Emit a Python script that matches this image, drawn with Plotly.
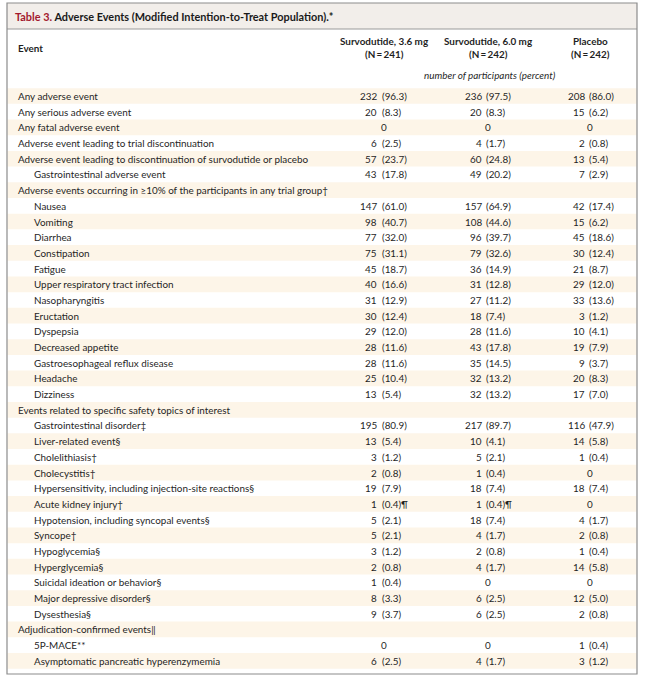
import plotly.graph_objects as go

title_label = "Table 3."
title_text = "Adverse Events (Modified Intention-to-Treat Population).*"
col_header_line1 = ["Survodutide, 3.6 mg", "Survodutide, 6.0 mg", "Placebo"]
col_header_line2 = ["(N\u2009=\u2009241)", "(N\u2009=\u2009242)", "(N\u2009=\u2009242)"]
unit_label = "number of participants (percent)"

events = [
    "Any adverse event",
    "Any serious adverse event",
    "Any fatal adverse event",
    "Adverse event leading to trial discontinuation",
    "Adverse event leading to discontinuation of survodutide or placebo",
    "Gastrointestinal adverse event",
    "Adverse events occurring in \u226510% of the participants in any trial group\u2020",
    "Nausea",
    "Vomiting",
    "Diarrhea",
    "Constipation",
    "Fatigue",
    "Upper respiratory tract infection",
    "Nasopharyngitis",
    "Eructation",
    "Dyspepsia",
    "Decreased appetite",
    "Gastroesophageal reflux disease",
    "Headache",
    "Dizziness",
    "Events related to specific safety topics of interest",
    "Gastrointestinal disorder\u2021",
    "Liver-related event\u00a7",
    "Cholelithiasis\u2020",
    "Cholecystitis\u2020",
    "Hypersensitivity, including injection-site reactions\u00a7",
    "Acute kidney injury\u2020",
    "Hypotension, including syncopal events\u00a7",
    "Syncope\u2020",
    "Hypoglycemia\u00a7",
    "Hyperglycemia\u00a7",
    "Suicidal ideation or behavior\u00a7",
    "Major depressive disorder\u00a7",
    "Dysesthesia\u00a7",
    "Adjudication-confirmed events\u2016",
    "5P-MACE**",
    "Asymptomatic pancreatic hyperenzymemia",
]
indent_level = [0, 0, 0, 0, 0, 1, 0, 1, 1, 1, 1, 1, 1, 1, 1, 1, 1, 1, 1, 1,
                0, 1, 1, 1, 1, 1, 1, 1, 1, 1, 1, 1, 1, 1, 0, 1, 1]

surv36 = ["232 (96.3)", "20 (8.3)", "0", "6 (2.5)", "57 (23.7)", "43 (17.8)", "",
          "147 (61.0)", "98 (40.7)", "77 (32.0)", "75 (31.1)", "45 (18.7)", "40 (16.6)",
          "31 (12.9)", "30 (12.4)", "29 (12.0)", "28 (11.6)", "28 (11.6)", "25 (10.4)",
          "13 (5.4)", "", "195 (80.9)", "13 (5.4)", "3 (1.2)", "2 (0.8)", "19 (7.9)",
          "1 (0.4)\u00b6", "5 (2.1)", "5 (2.1)", "3 (1.2)", "2 (0.8)", "1 (0.4)",
          "8 (3.3)", "9 (3.7)", "", "0", "6 (2.5)"]
surv60 = ["236 (97.5)", "20 (8.3)", "0", "4 (1.7)", "60 (24.8)", "49 (20.2)", "",
          "157 (64.9)", "108 (44.6)", "96 (39.7)", "79 (32.6)", "36 (14.9)", "31 (12.8)",
          "27 (11.2)", "18 (7.4)", "28 (11.6)", "43 (17.8)", "35 (14.5)", "32 (13.2)",
          "32 (13.2)", "", "217 (89.7)", "10 (4.1)", "5 (2.1)", "1 (0.4)", "18 (7.4)",
          "1 (0.4)\u00b6", "18 (7.4)", "4 (1.7)", "2 (0.8)", "4 (1.7)", "0",
          "6 (2.5)", "6 (2.5)", "", "0", "4 (1.7)"]
placebo = ["208 (86.0)", "15 (6.2)", "0", "2 (0.8)", "13 (5.4)", "7 (2.9)", "",
           "42 (17.4)", "15 (6.2)", "45 (18.6)", "30 (12.4)", "21 (8.7)", "29 (12.0)",
           "33 (13.6)", "3 (1.2)", "10 (4.1)", "19 (7.9)", "9 (3.7)", "20 (8.3)",
           "17 (7.0)", "", "116 (47.9)", "14 (5.8)", "1 (0.4)", "0", "18 (7.4)",
           "0", "4 (1.7)", "2 (0.8)", "1 (0.4)", "14 (5.8)", "0",
           "12 (5.0)", "2 (0.8)", "", "1 (0.4)", "3 (1.2)"]

# ---------------- layout constants ----------------
W, H = 646, 680
LEFT, RIGHT, TOP, BOTTOM = 7, 637, 3, 674
TITLE_BOTTOM = 29
ROW0_Y = 96.0
ROW_H = 15.69
TEXT_X = [16, 32]
COL_SPLIT = [380, 484.5, 587.5]     # position of the "(" in each value column
COL_CENTER = [384, 488, 590]
FONT = "Lato, 'Open Sans', sans-serif"
FS = 9.9
TXT = "#1f1f1f"
BEIGE = "#fdf5e8"

fig = go.Figure()
shapes = []
ann = []

# row bands
for i in range(len(events)):
    yc = ROW0_Y + i * ROW_H
    if i % 2 == 0:
        shapes.append(dict(type="rect", x0=LEFT + 0.5, x1=RIGHT - 0.5,
                           y0=yc - ROW_H / 2, y1=yc + ROW_H / 2,
                           fillcolor=BEIGE, line=dict(width=0), layer="below"))

# title bar
shapes.append(dict(type="rect", x0=LEFT, x1=RIGHT, y0=TOP, y1=TITLE_BOTTOM,
                   fillcolor="#f2eeea", line=dict(width=0), layer="below"))
shapes.append(dict(type="line", x0=LEFT, x1=RIGHT, y0=TITLE_BOTTOM, y1=TITLE_BOTTOM,
                   line=dict(color="#9a9a9a", width=1)))
# outer frame
shapes.append(dict(type="rect", x0=LEFT, x1=RIGHT, y0=TOP, y1=BOTTOM,
                   line=dict(color="#8c8c8c", width=1.2), fillcolor="rgba(0,0,0,0)"))


def add(text, x, y, xa="left", size=FS, color=TXT, bold=False, italic=False):
    t = text
    if bold:
        t = "<b>" + t + "</b>"
    if italic:
        t = "<i>" + t + "</i>"
    ann.append(dict(text=t, x=x, y=y, xref="x", yref="y", xanchor=xa, yanchor="middle",
                    showarrow=False, font=dict(family=FONT, size=size, color=color)))


# title
ann.append(dict(text="<b><span style='color:#a31a2e'>" + title_label + "</span> " + title_text + "</b>",
                x=13, y=16, xref="x", yref="y", xanchor="left", yanchor="middle",
                showarrow=False, font=dict(family=FONT, size=10.9, color="#1a1a1a")))

# header
add("Event", 16, 47.5, bold=True)
for j in range(3):
    add(col_header_line1[j], COL_CENTER[j], 40.5, xa="center", bold=True)
    add(col_header_line2[j], COL_CENTER[j], 54, xa="center", bold=True)
add(unit_label, 490, 75, xa="center", italic=True)

# body
columns = [surv36, surv60, placebo]
for i, ev in enumerate(events):
    yc = ROW0_Y + i * ROW_H
    add(ev, TEXT_X[indent_level[i]], yc)
    for j, col in enumerate(columns):
        v = col[i]
        if not v:
            continue
        if " " in v:
            cnt, pct = v.split(" ", 1)
            add(cnt, COL_SPLIT[j] - 1.0, yc, xa="right")
            add(pct, COL_SPLIT[j] - 0.5, yc, xa="left")
        else:
            add(v, COL_CENTER[j], yc, xa="center")

fig.update_layout(
    width=W, height=H,
    margin=dict(l=0, r=0, t=0, b=0),
    paper_bgcolor="white", plot_bgcolor="white",
    xaxis=dict(range=[0, W], visible=False, fixedrange=True),
    yaxis=dict(range=[H, 0], visible=False, fixedrange=True),
    shapes=shapes, annotations=ann, showlegend=False,
)
fig.write_html("out.html", config={"displayModeBar": False},
               post_script="document.body.style.margin='0';document.body.style.overflow='hidden';")
